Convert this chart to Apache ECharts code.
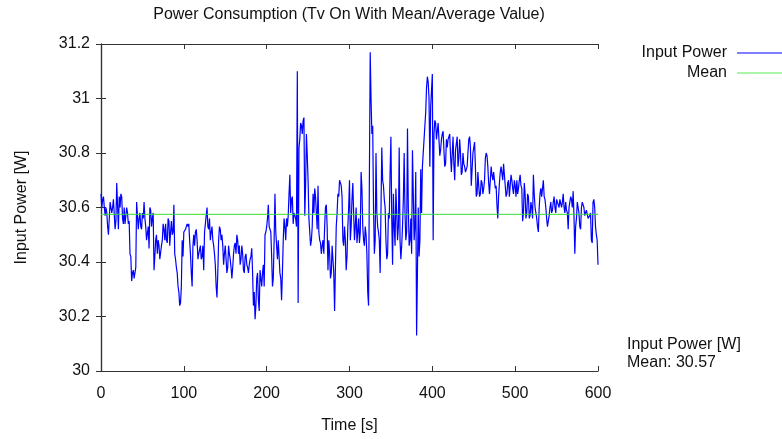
<!DOCTYPE html>
<html><head><meta charset="utf-8">
<script src="https://cdn.jsdelivr.net/npm/echarts@6/dist/echarts.min.js"></script>
<style>html,body{margin:0;padding:0;background:#fff}#c{width:782px;height:439px}</style>
</head><body><div id="c"></div>
<script>
// Samples read at even seconds (plus a few spikes)
const timeA = [
  0,2,4,6,8,10,12,14,16,18,20,22,24,26,28,30,32,34,36,38,40,42,44,46,48,50,52,54,56,58,60,62,64,66,68,70,72,74,76,78,80,82,84,86,88,90,92,94,96,98,100,
  102,104,106,108,110,112,114,116,118,120,122,124,126,128,130,132,134,136,138,140,142,144,146,148,150,152,154,156,158,160,162,164,166,168,170,172,174,176,178,180,182,184,186,188,190,192,194,196,198,200,202,
  204,206,208,210,212,214,216,218,220,222,224,226,228,230,232,234,236,237,238,240,242,244,246,248,250,252,254,256,258,260,262,264,266,268,270,272,274,276,278,280,282,284,286,288,290,292,294,296,298,300,
  302,304,306,308,310,312,314,316,318,320,322,323,325,326,328,330,332,334,336,338,339,340,342,344,346,348,350,352,354,356,358,360,362,364,366,368,370,372,374,376,378,380,381,382,384,386,388,390,392,394,396,398,400,401,402,404,406,
  408,410,412,414,416,418,420,422,424,426,428,430,432,434,436,438,440,442,444,446,448,450,452,454,456,458,460,462,464,466,468,470,472,474,476,478,479,480,482,484,486,488,490,492,494,496,498,500,502,504,506,508,
  510,512,514,516,518,520,522,524,526,528,530,532,534,536,538,540,542,544,546,548,550,552,554,556,558,560,562,564,566,568,570,572,574,576,578,580,582,584,586,588,590,592,594,596,598,600
];
const powerA = [
  30.65,30.63,30.60,30.60,30.53,30.50,30.62,30.60,30.63,30.55,30.69,30.64,30.65,30.56,30.60,30.54,30.58,30.55,30.42,30.36,30.34,30.38,30.62,30.56,30.53,30.58,30.62,30.53,30.48,30.45,30.59,30.56,30.37,30.48,30.43,30.46,30.41,30.48,30.52,30.54,30.47,30.55,30.51,30.50,30.61,30.41,30.36,30.29,30.25,30.48,30.51,
  30.52,30.54,30.54,30.43,30.31,30.50,30.51,30.48,30.43,30.46,30.42,30.37,30.54,30.60,30.52,30.48,30.53,30.46,30.39,30.27,30.48,30.52,30.50,30.39,30.46,30.36,30.46,30.41,30.34,30.43,30.47,30.50,30.43,30.39,30.46,30.37,30.42,30.39,30.36,30.41,30.45,30.24,30.19,30.34,30.26,30.37,30.31,30.39,30.50,30.53,30.61,
  30.53,30.42,30.34,30.65,30.46,30.48,30.36,30.26,30.48,30.53,30.56,30.57,30.72,30.63,30.54,30.58,30.53,31.10,30.25,30.85,30.90,30.92,30.57,30.87,30.70,30.51,30.48,30.65,30.67,30.58,30.68,30.48,30.43,30.48,30.53,30.61,30.37,30.43,30.36,30.41,30.22,30.53,30.65,30.70,30.68,30.48,30.53,30.37,30.53,30.70,
  30.53,30.69,30.48,30.60,30.51,30.47,30.73,30.53,30.46,30.50,30.29,30.24,31.17,31.00,30.90,30.43,30.80,30.53,30.48,30.36,30.82,30.70,30.63,30.48,30.43,30.56,30.86,30.39,30.53,30.67,30.48,30.82,30.41,30.53,30.80,30.48,30.89,30.46,30.56,30.81,30.48,30.73,30.13,30.36,30.42,30.74,30.75,30.85,30.95,31.08,31.00,30.97,31.09,30.48,30.87,30.91,30.85,
  30.85,30.81,30.87,30.81,30.76,30.82,30.86,30.79,30.73,30.76,30.81,30.86,30.78,30.80,30.73,30.76,30.73,30.75,30.85,30.82,30.68,30.82,30.75,30.65,30.68,30.65,30.69,30.67,30.78,30.79,30.69,30.65,30.72,30.73,30.67,30.61,30.56,30.64,30.73,30.75,30.76,30.68,30.65,30.70,30.68,30.70,30.65,30.68,30.70,30.67,30.72,30.67,
  30.58,30.65,30.58,30.64,30.57,30.60,30.72,30.60,30.56,30.51,30.65,30.64,30.70,30.63,30.56,30.53,30.60,30.58,30.62,30.60,30.63,30.62,30.63,30.60,30.65,30.58,30.59,30.52,30.62,30.63,30.66,30.43,30.56,30.60,30.53,30.60,30.62,30.57,30.59,30.56,30.57,30.48,30.62,30.60,30.50,30.39
];
// Samples read at odd seconds
const timeB = [
  1,3,5,7,9,11,13,15,17,19,21,23,25,27,29,31,33,35,37,39,41,43,45,47,49,51,53,55,57,59,61,63,65,67,69,71,73,75,77,79,81,83,85,87,89,91,93,95,97,99,
  101,103,105,107,109,111,113,115,117,119,121,123,125,127,129,131,133,135,137,139,141,143,145,147,149,151,153,155,157,159,161,163,165,167,169,171,173,175,177,179,181,183,185,187,189,191,193,195,197,199,201,203,
  205,207,209,211,213,215,217,219,221,223,225,227,229,231,233,235,239,241,243,245,247,249,251,253,255,257,259,261,263,265,267,269,271,273,275,277,279,281,283,285,287,289,291,293,295,297,299,
  301,303,305,307,309,311,313,315,317,319,321,327,329,331,333,335,337,341,343,345,347,349,351,353,355,357,359,361,363,365,367,369,371,373,375,377,379,383,385,387,389,391,393,395,397,399,403,405,
  407,409,411,413,415,417,419,421,423,425,427,429,431,433,435,437,439,441,443,445,447,449,451,453,455,457,459,461,463,465,467,469,471,473,475,477,481,483,485,487,489,491,493,495,497,499,501,503,505,507,509,
  511,513,515,517,519,521,523,525,527,529,531,533,535,537,539,541,543,545,547,549,551,553,555,557,559,561,563,565,567,569,571,573,575,577,579,581,583,585,587,589,591,593,595,597,599
];
const powerB = [
  30.60,30.64,30.57,30.58,30.50,30.62,30.58,30.63,30.52,30.69,30.52,30.60,30.64,30.54,30.54,30.60,30.54,30.43,30.33,30.37,30.36,30.62,30.52,30.58,30.52,30.56,30.56,30.48,30.53,30.60,30.53,30.58,30.42,30.50,30.48,30.41,30.46,30.54,30.48,30.48,30.56,30.46,30.55,30.51,30.43,30.38,30.31,30.24,30.31,30.42,
  30.51,30.53,30.53,30.48,30.36,30.46,30.46,30.52,30.41,30.43,30.41,30.46,30.51,30.57,30.53,30.56,30.51,30.48,30.43,30.31,30.36,30.53,30.48,30.46,30.43,30.46,30.38,30.43,30.38,30.38,30.46,30.43,30.48,30.46,30.41,30.43,30.36,30.43,30.38,30.39,30.42,30.36,30.29,30.24,30.36,30.22,30.34,30.36,30.31,30.51,30.56,30.53,
  30.51,30.31,30.48,30.51,30.41,30.42,30.34,30.36,30.56,30.48,30.53,30.65,30.58,30.64,30.58,30.56,30.82,30.91,30.87,30.93,30.68,30.79,30.56,30.46,30.53,30.58,30.64,30.52,30.51,30.47,30.46,30.43,30.60,30.53,30.48,30.34,30.46,30.36,30.38,30.58,30.64,30.70,30.64,30.46,30.48,30.42,30.60,
  30.48,30.63,30.58,30.53,30.47,30.56,30.51,30.67,30.48,30.53,30.43,30.87,30.60,30.48,30.58,30.51,30.36,30.68,30.60,30.41,30.58,30.73,30.56,30.65,30.46,30.58,30.53,30.48,30.46,30.63,30.58,30.51,30.60,30.48,30.43,30.65,30.53,30.60,30.48,30.58,30.75,30.90,31.04,31.06,30.75,31.03,30.92,30.85,
  30.91,30.79,30.85,30.88,30.75,30.85,30.85,30.87,30.73,30.86,30.70,30.81,30.75,30.85,30.72,30.80,30.75,30.73,30.75,30.86,30.68,30.80,30.84,30.64,30.73,30.64,30.70,30.65,30.70,30.80,30.75,30.65,30.75,30.70,30.73,30.68,30.69,30.75,30.70,30.76,30.64,30.69,30.64,30.72,30.67,30.70,30.64,30.65,30.70,30.68,30.55,
  30.69,30.56,30.65,30.56,30.62,30.56,30.65,30.58,30.53,30.60,30.67,30.67,30.64,30.60,30.53,30.57,30.62,30.59,30.64,30.58,30.62,30.60,30.63,30.62,30.60,30.62,30.58,30.60,30.64,30.60,30.57,30.53,30.62,30.58,30.52,30.62,30.60,30.57,30.59,30.56,30.58,30.47,30.63,30.53,30.48
];
const meanValue = 30.575;
const meanText = "30.57";
const seriesNames = ["Input Power", "Mean"];
const titleText = "Power Consumption (Tv On With Mean/Average Value)";

// merge both sample sets into one time-ordered series
const points = timeA.map((t, i) => [t, powerA[i]])
  .concat(timeB.map((t, i) => [t, powerB[i]]))
  .sort((a, b) => a[0] - b[0]);

const FONT = "Liberation Sans, Arial, sans-serif";
const chart = echarts.init(document.getElementById('c'), null, {renderer: 'canvas'});
const tickStyle = {show: true, inside: true, length: 5, lineStyle: {color: '#333', width: 1}};
const lineStyle = {lineStyle: {color: '#333', width: 1.2}};
chart.setOption({
  animation: false,
  backgroundColor: '#fff',
  grid: {left: 101, right: 184, top: 44, bottom: 67, containLabel: false},
  graphic: [
    {type: 'text', x: 349, y: 15, style: {text: titleText, font: '16px ' + FONT, fill: '#111', align: 'center', verticalAlign: 'middle'}},
    {type: 'text', x: 627, y: 336, style: {text: 'Input Power [W]\nMean: ' + meanText, font: '16px ' + FONT, fill: '#111', lineHeight: 18}}
  ],
  legend: {
    orient: 'vertical', right: 0, top: 45, padding: 0, align: 'right',
    itemWidth: 45, itemHeight: 14, itemGap: 4,
    textStyle: {fontSize: 16, lineHeight: 16, fontFamily: FONT, color: '#111', padding: [0, 5, 0, 0]},
    data: seriesNames.map(n => ({name: n, icon: 'path://M0,0 L10,0 L10,0.25 L0,0.25 Z'}))
  },
  xAxis: [
    {type: 'value', min: 0, max: 600, interval: 100, position: 'bottom',
     name: 'Time [s]', nameLocation: 'middle', nameGap: 47,
     nameTextStyle: {fontSize: 16, fontFamily: FONT, color: '#111'},
     axisLine: lineStyle, axisTick: tickStyle, splitLine: {show: false},
     axisLabel: {fontSize: 16, fontFamily: FONT, color: '#111', margin: 15}},
    {type: 'value', min: 0, max: 600, interval: 100, position: 'top',
     axisLine: lineStyle, axisTick: tickStyle, splitLine: {show: false}, axisLabel: {show: false}}
  ],
  yAxis: [
    {type: 'value', min: 30, max: 31.2, interval: 0.2, position: 'left',
     name: 'Input Power [W]', nameLocation: 'middle', nameGap: 71,
     nameTextStyle: {fontSize: 16, fontFamily: FONT, color: '#111'},
     axisLine: {show: true, lineStyle: {color: '#333', width: 1.2}}, axisTick: tickStyle, splitLine: {show: false},
     axisLabel: {fontSize: 16, fontFamily: FONT, color: '#111', margin: 11}},
    {type: 'value', min: 30, max: 31.2, interval: 0.2, position: 'right',
     axisLine: {show: true, lineStyle: {color: '#333', width: 1.2}}, axisTick: tickStyle, splitLine: {show: false}, axisLabel: {show: false}}
  ],
  series: [
    {name: seriesNames[0], type: 'line', showSymbol: false, symbol: 'none',
     data: points,
     lineStyle: {color: '#0000ff', width: 1.2}, itemStyle: {color: '#0000ff'}},
    {name: seriesNames[1], type: 'line', showSymbol: false, symbol: 'none',
     data: [[0, meanValue], [600, meanValue]],
     lineStyle: {color: '#33dd33', width: 1}, itemStyle: {color: '#55ee55'}}
  ]
});
</script></body></html>
